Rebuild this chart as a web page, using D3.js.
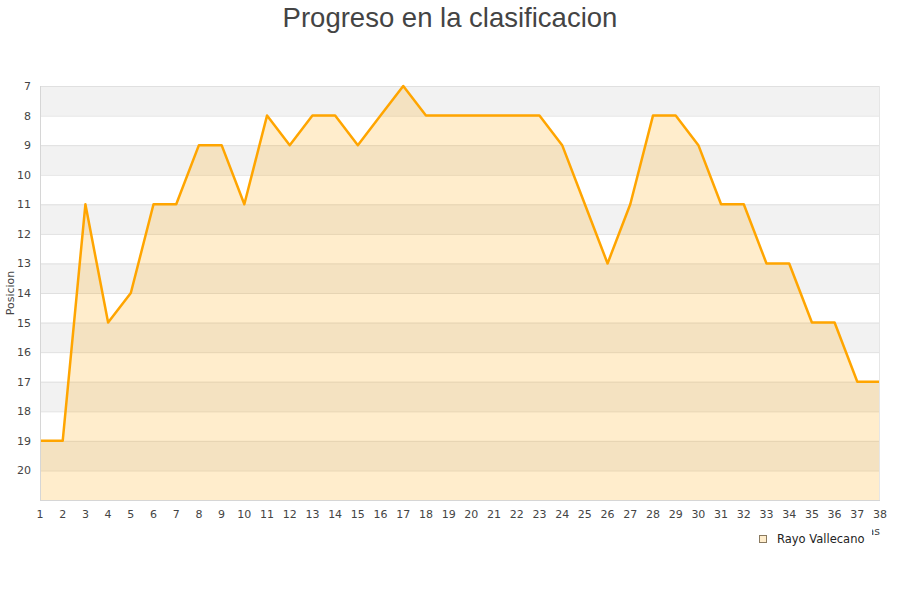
<!DOCTYPE html>
<html><head><meta charset="utf-8">
<script src="https://cdn.jsdelivr.net/npm/d3@7"></script>
<style>body{margin:0;background:#fff}svg{display:block}</style>
</head><body>
<svg id="c" width="900" height="600"></svg>
<script>
const jornadas = d3.range(1, 39);
const posiciones = [19,19,11,15,14,11,11,9,9,11,8,9,8,8,9,8,7,8,8,8,8,8,8,9,11,13,11,8,8,9,11,11,13,13,15,15,17,17];
const yTicks = [7,8,9,10,11,12,13,14,15,16,17,18,19,20];
const seriesName = "Rayo Vallecano";
const title = "Progreso en la clasificacion";
const yTitle = "Posicion";
const xTitle = "Jornadas";

const svg = d3.select("#c");
const L = 40, R = 880, T = 86, B = 500;
const x = d3.scaleLinear().domain([1, 38]).range([L, R]);
const y = d3.scaleLinear().domain([7, 21]).range([T, B]);

// alternating bands
const bands = d3.range(7, 21);
svg.append("g").selectAll("rect").data(bands).join("rect")
  .attr("x", L).attr("width", R - L)
  .attr("y", d => y(d)).attr("height", d => y(d + 1) - y(d))
  .attr("fill", d => (d % 2 === 1) ? "#f2f2f2" : "#ffffff");

// grid lines
svg.append("g").selectAll("line").data(d3.range(7, 22)).join("line")
  .attr("x1", L).attr("x2", R)
  .attr("y1", d => y(d) + 0.5).attr("y2", d => y(d) + 0.5)
  .attr("stroke", "#e0e0e0").attr("stroke-width", 1);

// area
const area = d3.area().x((d, i) => x(jornadas[i])).y0(B).y1(d => y(d));
svg.append("path").datum(posiciones).attr("d", area)
  .attr("fill", "rgba(255,165,0,0.2)");

// line
const line = d3.line().x((d, i) => x(jornadas[i])).y(d => y(d));
svg.append("path").datum(posiciones).attr("d", line)
  .attr("fill", "none").attr("stroke", "#ffa500").attr("stroke-width", 2.5)
  .attr("stroke-linejoin", "round");

// axis lines
svg.append("line").attr("x1", L + 0.5).attr("x2", L + 0.5).attr("y1", T).attr("y2", B)
  .attr("stroke", "#d6d6d6");
svg.append("line").attr("x1", L).attr("x2", R).attr("y1", B + 0.5).attr("y2", B + 0.5)
  .attr("stroke", "#d6d6d6");
svg.append("line").attr("x1", R - 0.5).attr("x2", R - 0.5).attr("y1", T).attr("y2", B)
  .attr("stroke", "#e6e6e6");

// y tick labels
svg.append("g").selectAll("text").data(yTicks).join("text")
  .attr("x", 31).attr("y", d => y(d) + 4)
  .attr("text-anchor", "end")
  .attr("font-family", "DejaVu Sans, Verdana, sans-serif").attr("font-size", 11)
  .attr("fill", "#444").text(d => d);

// x tick labels
svg.append("g").selectAll("text").data(jornadas).join("text")
  .attr("x", d => x(d)).attr("y", 518)
  .attr("text-anchor", "middle")
  .attr("font-family", "DejaVu Sans, Verdana, sans-serif").attr("font-size", 11)
  .attr("fill", "#444").text(d => d);

// y title
svg.append("text").attr("transform", "translate(14,293) rotate(-90)")
  .attr("text-anchor", "middle")
  .attr("font-family", "DejaVu Sans, Verdana, sans-serif").attr("font-size", 11)
  .attr("fill", "#444").text(yTitle);

// x title (mostly hidden behind legend, as in the reference)
svg.append("text").attr("x", 880).attr("y", 535)
  .attr("text-anchor", "end")
  .attr("font-family", "DejaVu Sans, Verdana, sans-serif").attr("font-size", 11)
  .attr("fill", "#444").text(xTitle);

// legend
const lg = svg.append("g");
lg.append("rect").attr("x", 745).attr("y", 526).attr("width", 127).attr("height", 26).attr("fill", "#fff");
lg.append("rect").attr("x", 759.5).attr("y", 535.5).attr("width", 7).attr("height", 7)
  .attr("fill", "#ffedcc").attr("stroke", "#8a7a60").attr("stroke-width", 1);
lg.append("text").attr("x", 777).attr("y", 543)
  .attr("font-family", "DejaVu Sans, Verdana, sans-serif").attr("font-size", 11.5)
  .attr("fill", "#222").text(seriesName);

// title
svg.append("text").attr("x", 450).attr("y", 27)
  .attr("text-anchor", "middle")
  .attr("font-family", "Liberation Sans, Arial, sans-serif").attr("font-size", 27.5)
  .attr("fill", "#444").text(title);
</script>
</body></html>
